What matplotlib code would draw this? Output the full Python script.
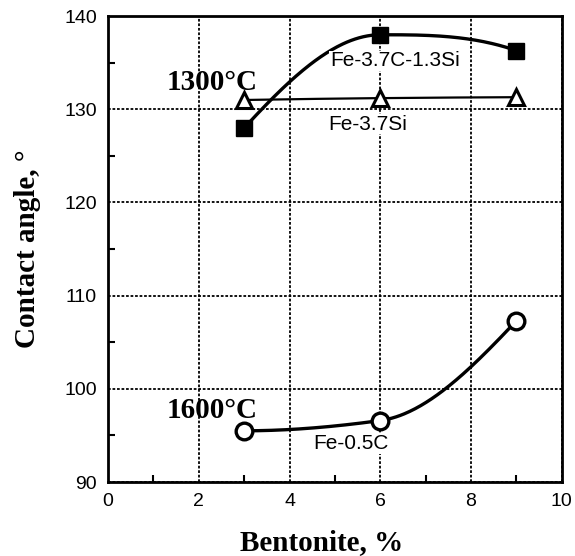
import numpy as np
import matplotlib
matplotlib.use("Agg")
import matplotlib.pyplot as plt
from matplotlib.ticker import MultipleLocator

plt.rcParams["font.family"] = ["Liberation Sans", "DejaVu Sans"]

bentonite = [3, 6, 9]
fe_37c_13si = [128.0, 138.0, 136.3]
fe_37si = [131.0, 131.2, 131.3]
fe_05c = [95.5, 96.6, 107.3]


def pchip(x, y, xs):
    x = np.asarray(x, float); y = np.asarray(y, float)
    h = np.diff(x); d = np.diff(y) / h
    n = len(x); m = np.zeros(n)
    for k in range(1, n - 1):
        if d[k - 1] * d[k] > 0:
            w1 = 2 * h[k] + h[k - 1]; w2 = h[k] + 2 * h[k - 1]
            m[k] = (w1 + w2) / (w1 / d[k - 1] + w2 / d[k])
    def end(h0, h1, d0, d1):
        v = ((2 * h0 + h1) * d0 - h0 * d1) / (h0 + h1)
        if np.sign(v) != np.sign(d0):
            v = 0.0
        elif np.sign(d0) != np.sign(d1) and abs(v) > abs(3 * d0):
            v = 3 * d0
        return v
    m[0] = end(h[0], h[1], d[0], d[1])
    m[-1] = end(h[-1], h[-2], d[-1], d[-2])
    out = np.empty_like(xs, dtype=float)
    for i, xv in enumerate(xs):
        k = min(np.searchsorted(x, xv, side="right") - 1, n - 2)
        k = max(k, 0)
        t = (xv - x[k]) / h[k]
        h00 = 2 * t**3 - 3 * t**2 + 1; h10 = t**3 - 2 * t**2 + t
        h01 = -2 * t**3 + 3 * t**2; h11 = t**3 - t**2
        out[i] = h00 * y[k] + h10 * h[k] * m[k] + h01 * y[k + 1] + h11 * h[k] * m[k + 1]
    return out


fig = plt.figure(figsize=(5.75, 5.56), dpi=100)
ax = fig.add_axes([0.188, 0.133, 0.789, 0.838])

xs = np.linspace(3, 9, 200)
ax.plot(xs, pchip(bentonite, fe_37c_13si, xs), color="black", lw=2.4, zorder=3)
ax.plot(xs, pchip(bentonite, fe_37si, xs), color="black", lw=1.6, zorder=3)
ax.plot(xs, pchip(bentonite, fe_05c, xs), color="black", lw=2.4, zorder=3)

ax.plot(bentonite, fe_37c_13si, ls="none", marker="s", ms=12, mfc="black", mec="black", zorder=4)
ax.plot(bentonite, fe_37si, ls="none", marker="^", ms=12, mfc="white", mec="black", mew=2.2, zorder=4)
ax.plot(bentonite, fe_05c, ls="none", marker="o", ms=12, mfc="white", mec="black", mew=2.4, zorder=4)

ax.set_xlim(0, 10)
ax.set_ylim(90, 140)
ax.xaxis.set_major_locator(MultipleLocator(2))
ax.xaxis.set_minor_locator(MultipleLocator(1))
ax.yaxis.set_major_locator(MultipleLocator(10))
ax.yaxis.set_minor_locator(MultipleLocator(5))
ax.tick_params(which="major", direction="in", length=0, labelsize=14, pad=8)
ax.tick_params(which="minor", direction="in", length=5, width=1.5)

ax.grid(True, which="major", color="black", ls=(0, (1.5, 1)), lw=1.3)
ax.set_axisbelow(True)
for s in ax.spines.values():
    s.set_linewidth(2)

ax.set_xlabel("Bentonite, %", fontfamily="Liberation Serif", fontweight="bold", fontsize=21)
ax.set_ylabel("Contact angle, °", fontfamily="Liberation Serif", fontweight="bold", fontsize=21)
ax.xaxis.set_label_coords(0.47, -0.101)
ax.yaxis.set_label_coords(-0.148, 0.5)

ax.text(1.30, 132.06, "1300°C", fontfamily="Liberation Serif", fontweight="bold", fontsize=21, va="baseline", ha="left")
ax.text(1.30, 96.87, "1600°C", fontfamily="Liberation Serif", fontweight="bold", fontsize=21, va="baseline", ha="left")
ax.text(4.89, 134.6, "Fe-3.7C-1.3Si", fontsize=15, va="baseline", ha="left",
        bbox=dict(fc="white", ec="none", pad=0.5))
ax.text(4.85, 127.8, "Fe-3.7Si", fontsize=15, va="baseline", ha="left",
        bbox=dict(fc="white", ec="none", pad=0.5))
ax.text(4.52, 93.55, "Fe-0.5C", fontsize=15, va="baseline", ha="left",
        bbox=dict(fc="white", ec="none", pad=0.5))

fig.savefig("out.png", dpi=100)
